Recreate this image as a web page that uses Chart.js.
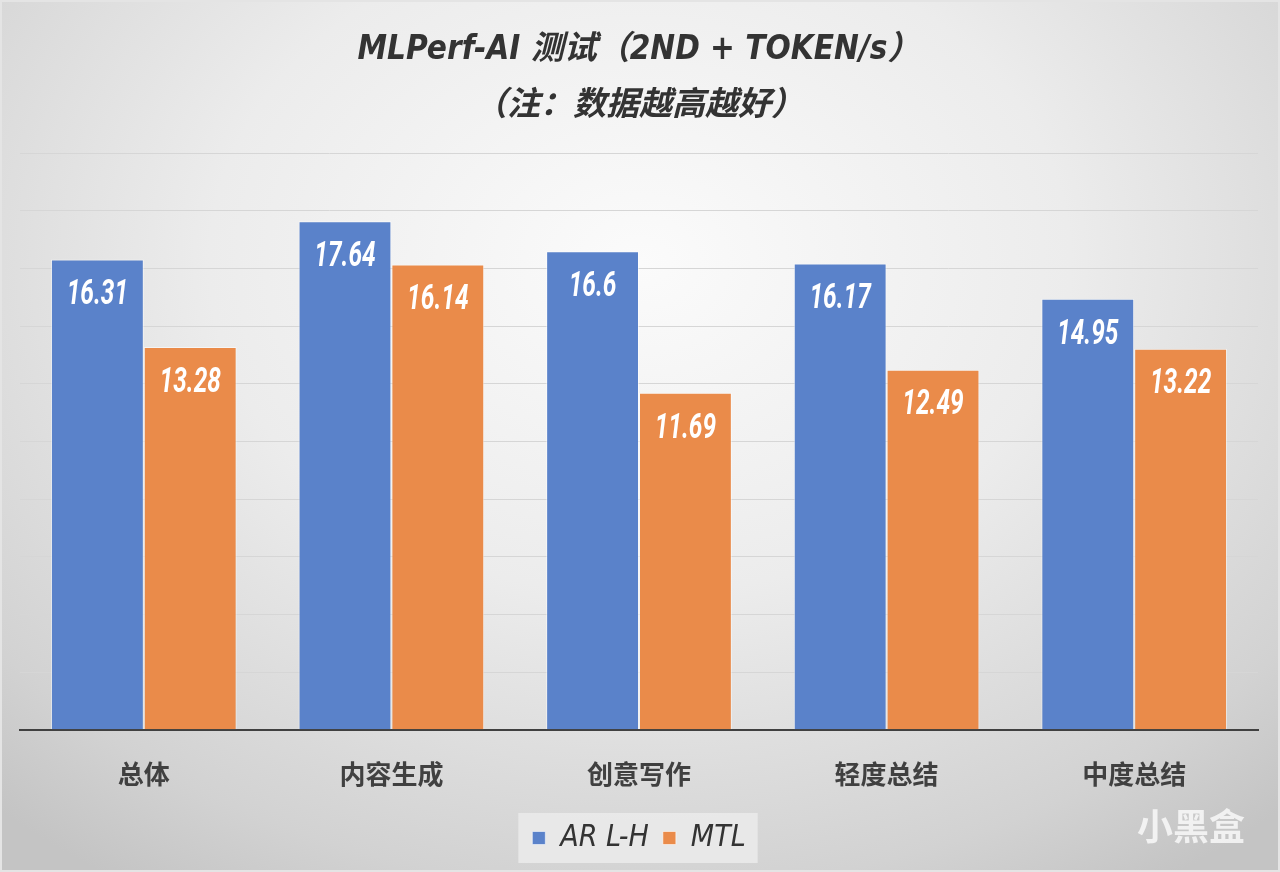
<!DOCTYPE html>
<html>
<head>
<meta charset="utf-8">
<script src="https://cdn.jsdelivr.net/npm/chart.js@4/dist/chart.umd.min.js"></script>
<style>
html,body{margin:0;padding:0;}
#wrap{width:1280px;height:872px;position:relative;
background:radial-gradient(ellipse 75% 85% at 50% 30%, #fbfbfb 0%, #ececec 45%, #d2d2d2 85%, #c4c4c4 100%);
box-sizing:border-box;border:2px solid #e4e4e4;}
canvas{position:absolute;left:-2px;top:-2px;}
</style>
</head>
<body>
<div id="wrap"><canvas id="c" width="1280" height="872"></canvas></div>
<script>
const categories = ['总体', '内容生成', '创意写作', '轻度总结', '中度总结'];
const arlhValues = [16.31, 17.64, 16.6, 16.17, 14.95];
const mtlValues = [13.28, 16.14, 11.69, 12.49, 13.22];
const seriesNames = ['AR L-H', 'MTL'];
const titleLines = ['MLPerf-AI 测试（2ND + TOKEN/s）', '（注：数据越高越好）'];
const watermarkText = '小黑盒';

const NARROW = "'DejaVu Sans Condensed', 'Noto Sans CJK SC', sans-serif";

const labelPlugin = {
  id: 'barLabels',
  afterDatasetsDraw(chart) {
    const ctx = chart.ctx;
    chart.data.datasets.forEach((ds, di) => {
      const meta = chart.getDatasetMeta(di);
      meta.data.forEach((bar, i) => {
        ctx.save();
        ctx.fillStyle = '#ffffff';
        ctx.font = "italic bold 35px Roboto, 'Liberation Sans', sans-serif";
        ctx.textAlign = 'center';
        ctx.textBaseline = 'middle';
        ctx.translate(bar.x, bar.y + 36);
        ctx.scale(0.7, 1);
        ctx.fillText(String(ds.data[i]), 0, 0);
        ctx.restore();
      });
    });
  }
};

const legendBgPlugin = {
  id: 'legendBg',
  beforeDraw(chart) {
    const lg = chart.legend;
    if (!lg || !lg.legendHitBoxes || !lg.legendHitBoxes.length) return;
    let l = Infinity, r = -Infinity, t = Infinity, b = -Infinity;
    lg.legendHitBoxes.forEach(h => {
      l = Math.min(l, h.left); r = Math.max(r, h.left + h.width);
      t = Math.min(t, h.top); b = Math.max(b, h.top + h.height);
    });
    const ctx = chart.ctx;
    ctx.save();
    ctx.fillStyle = 'rgba(236,236,236,0.8)';
    ctx.fillRect(l - 14, t - 10, (r - l) + 26, (b - t) + 20);
    ctx.restore();
  },
  afterDraw(chart) {
    const ctx = chart.ctx;
    ctx.save();
    ctx.fillStyle = 'rgba(255,255,255,0.75)';
    ctx.font = "bold 36px 'Noto Sans CJK SC', sans-serif";
    ctx.textAlign = 'left';
    ctx.textBaseline = 'middle';
    ctx.fillText(watermarkText, 1137, 826);
    ctx.restore();
  }
};

new Chart(document.getElementById('c'), {
  type: 'bar',
  data: {
    labels: categories,
    datasets: [
      { label: seriesNames[0], data: arlhValues, backgroundColor: '#5a82ca',
        borderColor: 'rgba(255,255,255,0.55)', borderWidth: 1 },
      { label: seriesNames[1], data: mtlValues, backgroundColor: '#ea8b4a',
        borderColor: 'rgba(255,255,255,0.55)', borderWidth: 1 }
    ]
  },
  options: {
    responsive: false,
    animation: false,
    layout: { padding: { left: 20, right: 22, top: 0, bottom: 9 } },
    datasets: { bar: { categoryPercentage: 0.75, barPercentage: 1.0 } },
    plugins: {
      title: {
        display: true,
        text: titleLines,
        color: '#333333',
        font: { family: NARROW, size: 33, weight: 'bold', style: 'italic', lineHeight: 1.7 },
        padding: { top: 22, bottom: 19 }
      },
      legend: {
        position: 'bottom',
        labels: {
          color: '#333333',
          font: { family: NARROW, size: 30, style: 'italic' },
          boxWidth: 13, boxHeight: 13,
          padding: 14
        }
      },
      tooltip: { enabled: false }
    },
    scales: {
      x: {
        grid: { display: false },
        border: { display: true, color: '#404040', width: 2 },
        ticks: { color: '#404040', font: { family: "'Noto Sans CJK SC', sans-serif", size: 26, weight: 'bold' }, padding: 21 },
        afterFit(scale) { scale.height -= 2; }
      },
      y: {
        min: 0, max: 20,
        ticks: { display: false, stepSize: 2 },
        grid: { color: '#d6d6d6', lineWidth: 1, drawTicks: false },
        border: { display: false }
      }
    }
  },
  plugins: [labelPlugin, legendBgPlugin]
});
</script>
</body>
</html>
